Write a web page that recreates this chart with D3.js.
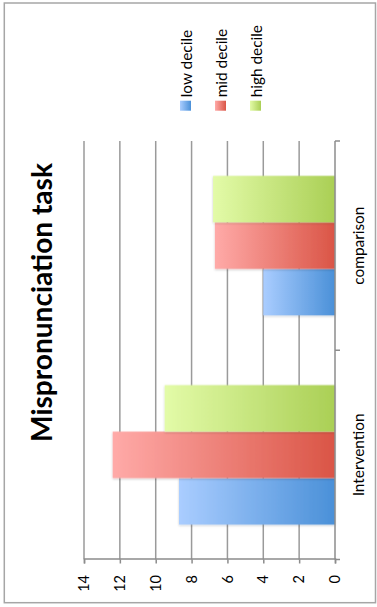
<!DOCTYPE html>
<html>
<head>
<meta charset="utf-8">
<script src="https://cdn.jsdelivr.net/npm/d3@7"></script>
<style>
  html, body { margin: 0; padding: 0; background: #fff; }
  svg { display: block; }
  text { font-family: Lato, "Open Sans", sans-serif; fill: #000; }
</style>
</head>
<body>
<svg id="chart" width="377" height="607"></svg>
<script>
// Mispronunciation task scores by decile group
const categories = ["Intervention", "comparison"];
const series = ["low decile", "mid decile", "high decile"];
const lowDecile = [8.7, 4.0];
const midDecile = [12.4, 6.7];
const highDecile = [9.5, 6.8];
const valueTicks = [0, 2, 4, 6, 8, 10, 12, 14];
const titleText = "Mispronunciation task";

// light (top) -> dark (baseline) gradient stops for each series
const seriesLight = ["#aacdff", "#ffaaa8", "#e3fba8"];
const seriesDark = ["#4a90d8", "#da5546", "#aacf55"];

const values = [lowDecile, midDecile, highDecile];

// The chart is laid out as a column chart on a 607 x 377 canvas,
// then turned a quarter turn counter-clockwise onto the page.
const W = 607, H = 377;
const svg = d3.select("#chart");
const defs = svg.append("defs");

series.forEach((s, i) => {
  const g = defs.append("linearGradient")
    .attr("id", "grad" + i)
    .attr("x1", 0).attr("y1", 0).attr("x2", 0).attr("y2", 1);
  g.append("stop").attr("offset", "0%").attr("stop-color", seriesLight[i]);
  g.append("stop").attr("offset", "100%").attr("stop-color", seriesDark[i]);
});

const shadow = defs.append("filter").attr("id", "barShadow")
  .attr("x", "-10%").attr("y", "-10%").attr("width", "120%").attr("height", "120%");
shadow.append("feDropShadow")
  .attr("dx", -1).attr("dy", 0).attr("stdDeviation", 1.2)
  .attr("flood-color", "#000").attr("flood-opacity", 0.22);

const root = svg.append("g").attr("transform", `translate(0,${W}) rotate(-90)`);

// outer frame
root.append("rect")
  .attr("x", 4.3).attr("y", 4.3)
  .attr("width", 599.7).attr("height", 371.2)
  .attr("fill", "none").attr("stroke", "#a6a6a6").attr("stroke-width", 1.5);

const x0 = d3.scaleBand().domain(categories).range([47.5, 466]).padding(0);
const x1 = d3.scaleBand().domain(series).range([0, x0.bandwidth()])
  .paddingInner(0).paddingOuter(0.75);
const y = d3.scaleLinear().domain([0, 14]).range([335, 84]);

// gridlines
root.append("g").selectAll("line")
  .data(valueTicks.filter(v => v > 0))
  .join("line")
  .attr("x1", x0.range()[0]).attr("x2", x0.range()[1])
  .attr("y1", d => y(d)).attr("y2", d => y(d))
  .attr("stroke", "#9a9a9a").attr("stroke-width", 1.5);

// bars
const groups = root.append("g").selectAll("g")
  .data(categories)
  .join("g")
  .attr("transform", d => `translate(${x0(d)},0)`);

groups.selectAll("rect")
  .data((c, ci) => series.map((s, si) => ({ s, si, v: values[si][ci] })))
  .join("rect")
  .attr("x", d => x1(d.s))
  .attr("width", x1.bandwidth())
  .attr("y", d => y(d.v))
  .attr("height", d => y(0) - y(d.v))
  .attr("fill", d => `url(#grad${d.si})`)
  .attr("filter", "url(#barShadow)");

// value axis
const yAxis = d3.axisLeft(y).tickValues(valueTicks).tickSize(4).tickPadding(11.5)
  .tickFormat(d3.format("d"));
const yg = root.append("g").attr("transform", "translate(47.5,0)").call(yAxis);
yg.select(".domain").attr("stroke", "#8c8c8c").attr("stroke-width", 1.5);
yg.selectAll(".tick line").attr("stroke", "#8c8c8c").attr("stroke-width", 1.5);
yg.selectAll(".tick text")
  .attr("font-family", "Lato, sans-serif")
  .attr("font-size", 14.5)
  .attr("fill", "#000");

// category axis
const catEdges = categories.map(c => x0(c)).concat([x0.range()[1]]);
const cg = root.append("g");
cg.append("line")
  .attr("x1", x0.range()[0]).attr("x2", x0.range()[1])
  .attr("y1", y(0)).attr("y2", y(0))
  .attr("stroke", "#8c8c8c").attr("stroke-width", 1.5);
cg.selectAll("line.tk")
  .data(catEdges)
  .join("line").attr("class", "tk")
  .attr("x1", d => d).attr("x2", d => d)
  .attr("y1", y(0)).attr("y2", y(0) + 5)
  .attr("stroke", "#8c8c8c").attr("stroke-width", 1.5);

const catLabels = cg.selectAll("text")
  .data(categories)
  .join("text")
  .attr("x", d => x0(d) + x0.bandwidth() / 2)
  .attr("y", 363.5)
  .attr("text-anchor", "middle")
  .attr("font-size", 16)
  .text(d => d);

// size the label font so "Intervention" spans its measured width
const refLen = catLabels.filter(d => d === "Intervention").node().getComputedTextLength();
const labelSize = 16 * 83 / refLen;
catLabels.attr("font-size", labelSize);

// legend
const legend = root.append("g");
const rows = legend.selectAll("g")
  .data(series)
  .join("g")
  .attr("transform", (d, i) => `translate(496.3,${180 + i * 35})`);
rows.append("rect")
  .attr("width", 10).attr("height", 11)
  .attr("fill", (d, i) => `url(#grad${i})`);
rows.append("text")
  .attr("x", 13.4).attr("y", 11.5)
  .attr("font-size", labelSize)
  .text(d => d);

// title
const title = root.append("text")
  .attr("x", 304.5).attr("y", 52)
  .attr("text-anchor", "middle")
  .attr("font-weight", "bold")
  .attr("font-size", 28)
  .text(titleText);
const tLen = title.node().getComputedTextLength();
title.attr("font-size", 28 * 279 / tLen);
</script>
</body>
</html>
